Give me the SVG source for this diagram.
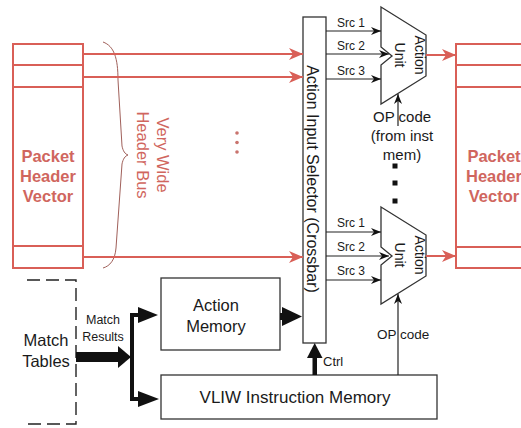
<svg xmlns="http://www.w3.org/2000/svg" width="521" height="428" viewBox="0 0 521 428">
<style>
text{font-family:"Liberation Sans",Arial,sans-serif;fill:#1a1a1a}
.red{fill:none;stroke:#D95F57;stroke-width:2}
.rtxt{fill:#D0665E;font-weight:bold;font-size:16.5px;text-anchor:middle}
.bus{fill:#D0665E;font-size:16.5px}
.box{fill:#fff;stroke:#333;stroke-width:1.3}
.thin{stroke:#222;stroke-width:1.2;fill:none}
.src{font-size:12px}
.blk{fill:#111;stroke:none}
</style>
<defs>
<marker id="ra" viewBox="0 0 14 12" refX="14" refY="6" markerWidth="14" markerHeight="12" markerUnits="userSpaceOnUse" orient="auto">
<path d="M0,0 L14,6 L0,12 L4,6 z" fill="#D95F57"/>
</marker>
<marker id="ba" viewBox="0 0 10 8" refX="10" refY="4" markerWidth="10" markerHeight="8" markerUnits="userSpaceOnUse" orient="auto">
<path d="M0,0 L10,4 L0,8 L3,4 z" fill="#111"/>
</marker>
</defs>

<g id="phv-left">
<rect class="red" x="13" y="44" width="70" height="224"/>
<line class="red" x1="13" y1="65" x2="83" y2="65"/>
<line class="red" x1="13" y1="87" x2="83" y2="87"/>
<line class="red" x1="13" y1="246" x2="83" y2="246"/>
<text class="rtxt" x="48" y="162">Packet</text>
<text class="rtxt" x="48" y="182">Header</text>
<text class="rtxt" x="48" y="202">Vector</text>
</g>

<g id="phv-right">
<rect class="red" x="456" y="44" width="80" height="224"/>
<line class="red" x1="456" y1="65" x2="536" y2="65"/>
<line class="red" x1="456" y1="87" x2="536" y2="87"/>
<line class="red" x1="456" y1="247" x2="536" y2="247"/>
<text class="rtxt" x="494" y="162">Packet</text>
<text class="rtxt" x="494" y="182">Header</text>
<text class="rtxt" x="494" y="202">Vector</text>
</g>

<g id="header-bus">
<path d="M103,42 C114,46 118,58 118,80 L122,146 C123,151 125,154 128,155 C125,156 123,159 122,164 L116,248 C115,260 110,266 103,268" fill="none" stroke="#A0605A" stroke-width="1"/>
<text class="bus" transform="translate(157,155) rotate(90)" text-anchor="middle">Very Wide</text>
<text class="bus" transform="translate(137,155) rotate(90)" text-anchor="middle">Header Bus</text>
<circle cx="237" cy="133" r="1.8" fill="#C9736D"/>
<circle cx="237" cy="142.5" r="1.8" fill="#C9736D"/>
<circle cx="237" cy="152" r="1.8" fill="#C9736D"/>
</g>

<g id="crossbar">
<rect class="box" x="303" y="17" width="23" height="326"/>
<text transform="translate(307,179) rotate(90)" text-anchor="middle" font-size="16">Action Input Selector (Crossbar)</text>
</g>

<g id="action-unit-1">
<path class="box" d="M381,7 L426,35 L426,76 L381,104 L381,65 L392,56 L381,47 Z"/>
<text transform="translate(415,55) rotate(90)" text-anchor="middle" font-size="14">Action</text>
<text transform="translate(395,55) rotate(90)" text-anchor="middle" font-size="14">Unit</text>
</g>

<g id="action-unit-2">
<path class="box" d="M381,207 L426,235 L426,276 L381,304 L381,265 L392,256 L381,247 Z"/>
<text transform="translate(415,255) rotate(90)" text-anchor="middle" font-size="14">Action</text>
<text transform="translate(395,255) rotate(90)" text-anchor="middle" font-size="14">Unit</text>
</g>

<g id="match-tables">
<path d="M27,280 H76 V424 H27" fill="none" stroke="#222" stroke-width="1.4" stroke-dasharray="13 6"/>
<text x="46" y="346" font-size="16.5" text-anchor="middle">Match</text>
<text x="46" y="367" font-size="16.5" text-anchor="middle">Tables</text>
</g>

<g id="action-memory">
<rect class="box" x="161" y="278" width="119" height="72"/>
<text x="216" y="311" font-size="16.5" text-anchor="middle">Action</text>
<text x="216" y="332" font-size="16.5" text-anchor="middle">Memory</text>
</g>

<g id="vliw-memory">
<rect class="box" x="161" y="375" width="276" height="44"/>
<text x="295" y="403" font-size="17" text-anchor="middle">VLIW Instruction Memory</text>
</g>

<g id="connectors">
<line class="red" x1="83" y1="54" x2="303" y2="54" marker-end="url(#ra)"/>
<line class="red" x1="83" y1="77" x2="303" y2="77" marker-end="url(#ra)"/>
<line class="red" x1="83" y1="257" x2="303" y2="257" marker-end="url(#ra)"/>
<line class="red" x1="426" y1="55" x2="456" y2="55" marker-end="url(#ra)"/>
<line class="red" x1="426" y1="256" x2="456" y2="256" marker-end="url(#ra)"/>

<line class="thin" x1="326" y1="31" x2="381" y2="31" marker-end="url(#ba)"/>
<line class="thin" x1="326" y1="54" x2="389" y2="54" marker-end="url(#ba)"/>
<line class="thin" x1="326" y1="79" x2="381" y2="79" marker-end="url(#ba)"/>
<text class="src" x="337" y="27">Src 1</text>
<text class="src" x="337" y="50">Src 2</text>
<text class="src" x="337" y="75">Src 3</text>

<line class="thin" x1="326" y1="232" x2="381" y2="232" marker-end="url(#ba)"/>
<line class="thin" x1="326" y1="256" x2="389" y2="256" marker-end="url(#ba)"/>
<line class="thin" x1="326" y1="280" x2="381" y2="280" marker-end="url(#ba)"/>
<text class="src" x="337" y="227">Src 1</text>
<text class="src" x="337" y="251">Src 2</text>
<text class="src" x="337" y="275">Src 3</text>

<line class="thin" x1="398" y1="126" x2="398" y2="94" marker-end="url(#ba)"/>
<text x="373" y="122" font-size="15">OP code</text>
<text x="402" y="141" font-size="15" text-anchor="middle">(from inst</text>
<text x="402" y="160" font-size="15" text-anchor="middle">mem)</text>
<rect class="blk" x="392.5" y="163.5" width="5" height="5"/>
<rect class="blk" x="392.5" y="180.5" width="5" height="5"/>
<rect class="blk" x="392.5" y="198.5" width="5" height="5"/>

<line class="thin" x1="398" y1="375" x2="398" y2="294" marker-end="url(#ba)"/>
<text x="377" y="339" font-size="13.5">OP code</text>

<rect class="blk" x="76" y="352" width="43" height="10"/>
<polygon class="blk" points="118,346 131,357 118,368"/>
<rect class="blk" x="130" y="313" width="4" height="88"/>
<rect class="blk" x="130" y="313" width="10" height="4"/>
<polygon class="blk" points="138,307 158,315 138,323"/>
<rect class="blk" x="130" y="397" width="10" height="4"/>
<polygon class="blk" points="138,391 159,399 138,407"/>
<text x="103" y="324" font-size="12.5" text-anchor="middle">Match</text>
<text x="103" y="341" font-size="12.5" text-anchor="middle">Results</text>

<rect class="blk" x="280" y="313" width="4" height="7"/>
<polygon class="blk" points="282,307 302,316.5 282,326"/>

<rect class="blk" x="312.5" y="357" width="4.5" height="18"/>
<polygon class="blk" points="307,358 314.7,343 322.5,358"/>
<text x="323" y="366" font-size="13">Ctrl</text>
</g>
</svg>
